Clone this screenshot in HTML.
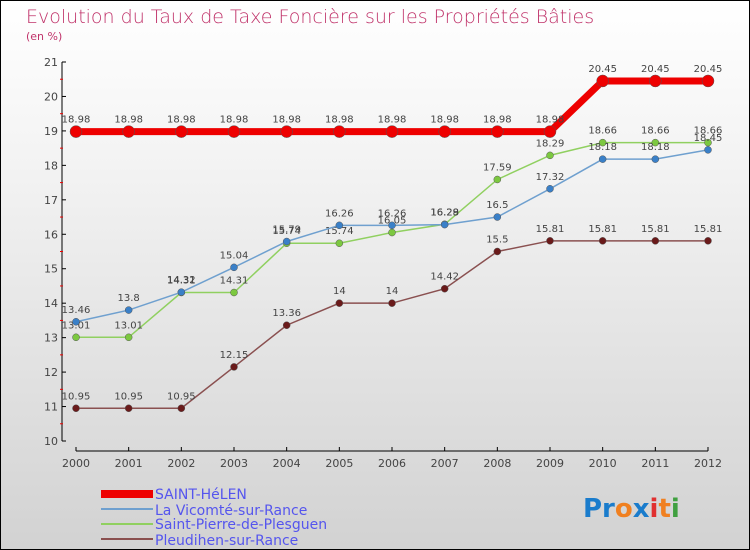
<!DOCTYPE html>
<html><head><meta charset="utf-8"><style>
body{margin:0}
#c{width:748px;height:548px;border:1px solid #000;background:linear-gradient(#fff,#f3f3f3 30%,#d2d2d2);position:relative;font-family:"DejaVu Sans","Liberation Sans",sans-serif}
</style></head><body>
<div id="c">
<svg width="748" height="548" id="s" style="position:absolute;left:0;top:0">
<text x="25" y="22" font-size="19" fill="#c0336a" font-family="DejaVu Sans" style="font-weight:200">Evolution du Taux de Taxe Foncière sur les Propriétés Bâties</text>
<text x="25" y="39" font-size="11" fill="#c0336a">(en %)</text>
<g id="ax"></g><g id="lines"></g>
<g font-size="14" fill="#5555ee">
<rect x="100" y="489" width="52" height="8" fill="#e00"/>
<text x="154" y="498">SAINT-HéLEN</text>
<rect x="100" y="507" width="52" height="2" fill="#6fa0cf"/>
<text x="154" y="514">La Vicomté-sur-Rance</text>
<rect x="100" y="522" width="52" height="2" fill="#90d060"/>
<text x="154" y="528">Saint-Pierre-de-Plesguen</text>
<rect x="100" y="537" width="52" height="2" fill="#8a5050"/>
<text x="154" y="544">Pleudihen-sur-Rance</text>
</g>
<text x="582" y="516" font-size="26" font-weight="bold"><tspan fill="#1a7ccc">Pr</tspan><tspan fill="#f08020">o</tspan><tspan fill="#1a7ccc">x</tspan><tspan fill="#e03030">i</tspan><tspan fill="#f08020">t</tspan><tspan fill="#40a040">i</tspan></text>
</svg></div>
<script>
const years=[2000,2001,2002,2003,2004,2005,2006,2007,2008,2009,2010,2011,2012];
const yTicks=[10,11,12,13,14,15,16,17,18,19,20,21];
const saintHelen=[18.98,18.98,18.98,18.98,18.98,18.98,18.98,18.98,18.98,18.98,20.45,20.45,20.45];
const vicomte=[13.46,13.8,14.32,15.04,15.79,16.26,16.26,16.28,16.5,17.32,18.18,18.18,18.45];
const saintPierre=[13.01,13.01,14.31,14.31,15.74,15.74,16.05,16.29,17.59,18.29,18.66,18.66,18.66];
const pleudihen=[10.95,10.95,10.95,12.15,13.36,14,14,14.42,15.5,15.81,15.81,15.81,15.81];
const NS="http://www.w3.org/2000/svg";
const X=i=>75+i*(632/12), Y=v=>440-(v-10)*(379/11);
function mk(t,a,p){const e=document.createElementNS(NS,t);for(const k in a)e.setAttribute(k,a[k]);p.appendChild(e);return e;}
const ax=document.getElementById('ax');
let e=mk('line',{x1:61,y1:Y(21),x2:61,y2:Y(10),stroke:'#000'},ax);


e=mk('line',{x1:75,y1:450,x2:707,y2:450,stroke:'#000'},ax);


yTicks.forEach(v=>{
 mk('line',{x1:61,y1:Y(v),x2:65,y2:Y(v),stroke:'#000'},ax);
 if(v<21)mk('line',{x1:59,y1:Y(v+0.5),x2:62,y2:Y(v+0.5),stroke:'#e00'},ax);
 const t=mk('text',{x:57,y:Y(v)+4,'text-anchor':'end','font-size':11,fill:'#444'},ax);t.textContent=v;
 
 
});
years.forEach((y,i)=>{
 mk('line',{x1:X(i),y1:446,x2:X(i),y2:450,stroke:'#000'},ax);
 const t=mk('text',{x:X(i),y:466,'text-anchor':'middle','font-size':11,fill:'#444'},ax);t.textContent=y;
 
 
});
const g=document.getElementById('lines');
function series(d,col,dot,w,r,name){
 const p=mk('polyline',{points:d.map((v,i)=>X(i)+','+Y(v)).join(' '),fill:'none',stroke:col,'stroke-width':w},g);
 
 
 d.forEach((v,i)=>{
  const c=mk('circle',{cx:X(i),cy:Y(v),r:r,fill:dot,stroke:'#555','stroke-width':0.5},g);
  
  
  const t=mk('text',{x:X(i),y:Y(v)-9,'text-anchor':'middle','font-size':10,fill:'#444'},g);t.textContent=v;
  
  
 });
}
series(pleudihen,'#8a5050','#6a1a1a',1.5,3.5,'pleudihen');
series(saintPierre,'#90d060','#7cc840',1.5,3.5,'saint-pierre');
series(vicomte,'#6fa0cf','#3a80c8',1.5,3.5,'vicomte');
series(saintHelen,'#e00','#e00',7,6,'saint-helen');
</script>
</body></html>
